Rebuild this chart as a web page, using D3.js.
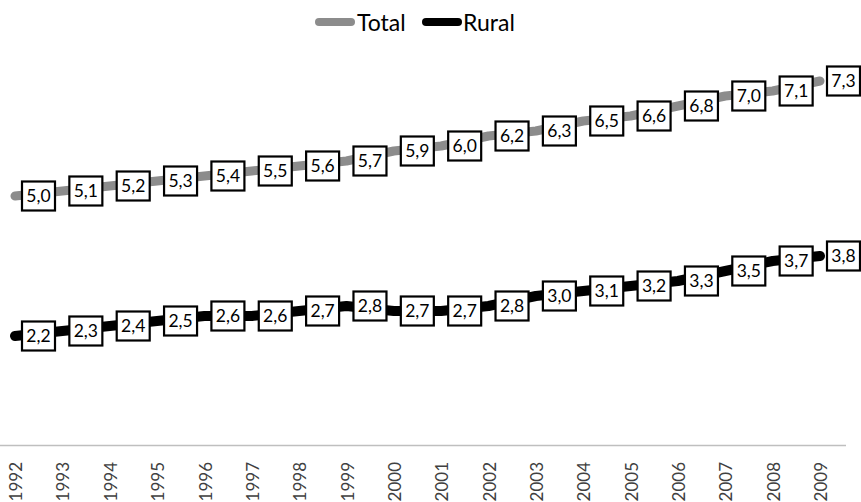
<!DOCTYPE html>
<html><head><meta charset="utf-8">
<script src="https://cdn.jsdelivr.net/npm/d3@7"></script>
<style>body{margin:0;background:#fff}svg{display:block}</style>
</head><body>
<svg id="c" width="861" height="502"></svg>
<script>
const years = ["1992","1993","1994","1995","1996","1997","1998","1999","2000","2001","2002","2003","2004","2005","2006","2007","2008","2009"];
const total = [5.0,5.1,5.2,5.3,5.4,5.5,5.6,5.7,5.9,6.0,6.2,6.3,6.5,6.6,6.8,7.0,7.1,7.3];
const rural = [2.2,2.3,2.4,2.5,2.6,2.6,2.7,2.8,2.7,2.7,2.8,3.0,3.1,3.2,3.3,3.5,3.7,3.8];
const seriesNames = ["Total","Rural"];
const seriesColors = ["#8c8c8c","#000000"];
const seriesWidths = [9,10];

const svg = d3.select("#c");
const font = "Lato, 'Open Sans', sans-serif";
const x = d3.scalePoint().domain(years).range([15, 820]);
const y = d3.scaleLinear().domain([0, 8]).range([446, 46]);

// axis baseline
svg.append("line").attr("x1",0).attr("x2",846).attr("y1",445.5).attr("y2",445.5)
  .attr("stroke","#bfbfbf").attr("stroke-width",1.5);

// year labels
svg.append("g").selectAll("text").data(years).join("text")
  .attr("transform", d => `translate(${x(d)+1},462) rotate(-90)`)
  .attr("text-anchor","end").attr("dy","0.36em")
  .attr("font-family",font).attr("font-size",17).attr("fill","#404040")
  .text(d => d);

const data = [total, rural];
const line = d3.line().x((d,i) => x(years[i])).y(d => y(d));
data.forEach((s,k) => {
  svg.append("path").attr("d", line(s)).attr("fill","none")
    .attr("stroke", seriesColors[k]).attr("stroke-width", seriesWidths[k])
    .attr("stroke-linecap","round").attr("stroke-linejoin","round");
});

const fmt = v => d3.format(".1f")(v).replace(".", ",");
data.forEach((s,k) => {
  const g = svg.append("g").selectAll("g").data(s).join("g")
    .attr("transform", (d,i) => `translate(${x(years[i]) + 7},${y(d)})`);
  g.append("rect").attr("x",0).attr("y",-14.5).attr("width",33).attr("height",29)
    .attr("fill","#fff").attr("stroke","#000").attr("stroke-width",2.2);
  g.append("text").attr("x",16.5).attr("y",0).attr("dy","0.36em").attr("text-anchor","middle")
    .attr("font-family",font).attr("font-size",17.5).attr("fill","#000").text(d => fmt(d));
});

// legend
const leg = [{x:315, tx:357}, {x:422, tx:463}];
seriesNames.forEach((n,k) => {
  svg.append("line").attr("x1",leg[k].x+4).attr("x2",leg[k].x+36).attr("y1",22).attr("y2",22)
    .attr("stroke",seriesColors[k]).attr("stroke-width",8).attr("stroke-linecap","round");
  svg.append("text").attr("x",leg[k].tx).attr("y",23).attr("dy","0.36em")
    .attr("font-family",font).attr("font-size",23).attr("fill","#000").text(n);
});
</script>
</body></html>
